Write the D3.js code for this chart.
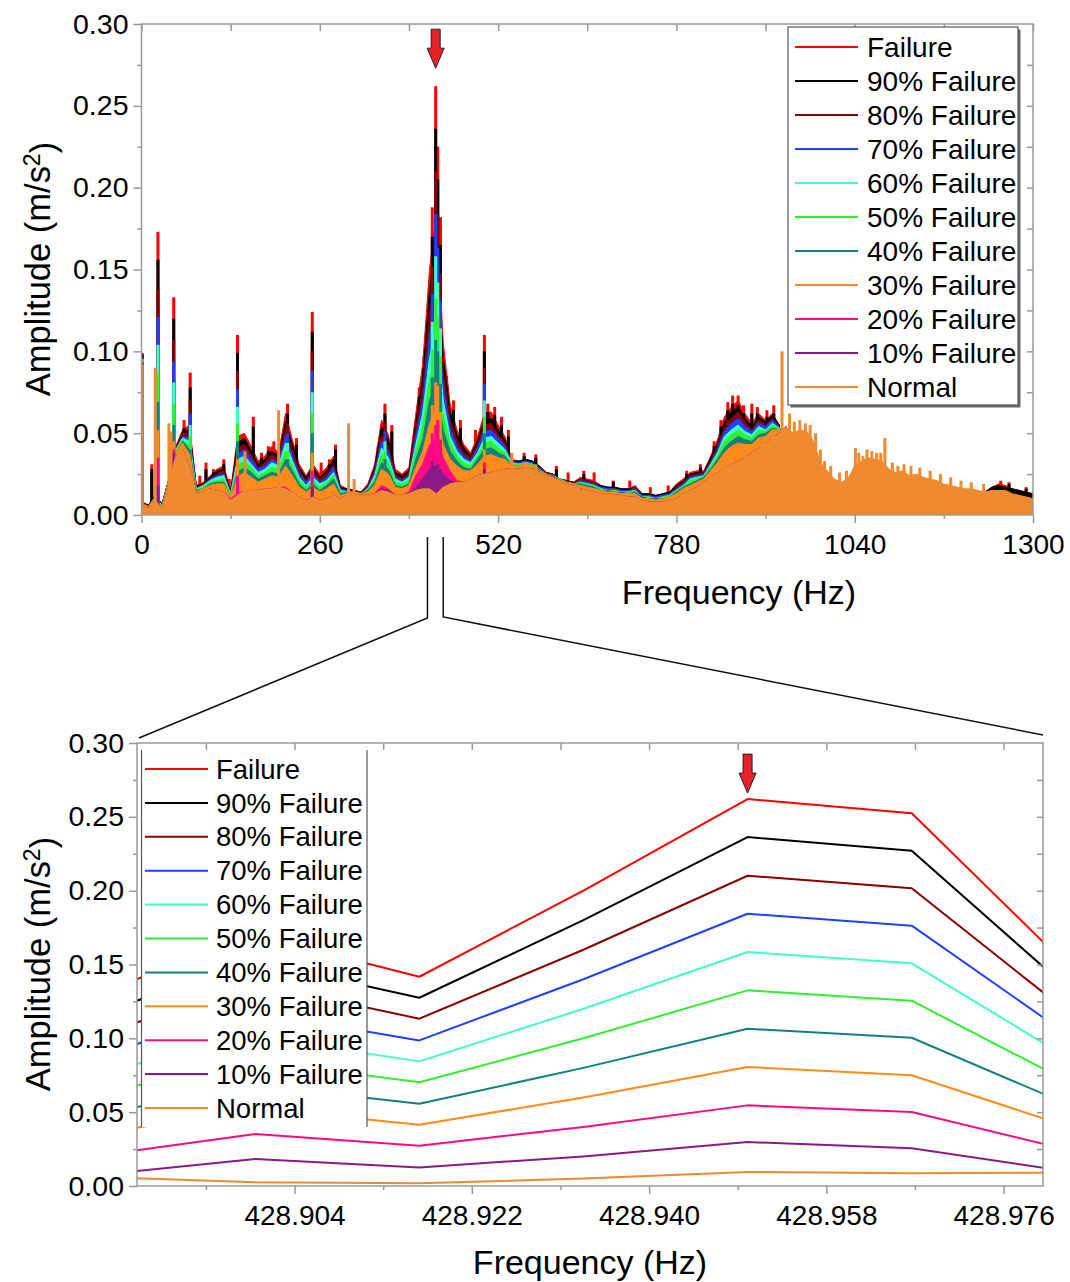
<!DOCTYPE html>
<html>
<head>
<meta charset="utf-8">
<script src="https://cdn.jsdelivr.net/npm/d3@7"></script>
<style>
  body { margin: 0; background: #fff; }
  svg text { font-family: "Liberation Sans", Arial, sans-serif; fill: #000; }
</style>
</head>
<body>
<div id="chart"></div>
<script>
// legend order is also the drawing order (Failure at the back, Normal in front)
const seriesNames = ["Failure", "90% Failure", "80% Failure", "70% Failure", "60% Failure",
  "50% Failure", "40% Failure", "30% Failure", "20% Failure", "10% Failure", "Normal"];
const seriesColors = ["#ff0000", "#000000", "#880000", "#2040ff", "#40ffc8",
  "#30f030", "#108080", "#ff8c1a", "#ff0a85", "#8a1a8a", "#ef8a30"];

// tick labels
const ampTicks = [0.00, 0.05, 0.10, 0.15, 0.20, 0.25, 0.30];
const ampMinor = [0.025, 0.075, 0.125, 0.175, 0.225, 0.275];
const freqTicks = [0, 260, 520, 780, 1040, 1300];
const freqMinor = [130, 390, 650, 910, 1170];
const zoomTicks = [428.904, 428.922, 428.940, 428.958, 428.976];
const zoomMinor = [428.895, 428.913, 428.931, 428.949, 428.967];

// full spectrum, frequency grid (Hz)
const freqTop = [
  0, 10, 20, 30, 40, 50, 60, 70, 80, 90,
  100, 110, 120, 130, 140, 150, 160, 170, 180, 190,
  200, 210, 220, 230, 240, 250, 260, 270, 280, 290,
  300, 310, 320, 330, 340, 350, 360, 370, 380, 390,
  400, 410, 420, 430, 440, 450, 460, 470, 480, 490,
  500, 510, 520, 530, 540, 550, 560, 570, 580, 590,
  600, 610, 620, 630, 640, 650, 660, 670, 680, 690,
  700, 710, 720, 730, 740, 750, 760, 770, 780, 790,
  800, 810, 820, 830, 840, 850, 860, 870, 880, 890,
  900, 910, 920, 930, 940, 950, 960, 970, 980, 990,
  1000, 1010, 1020, 1030, 1040, 1050, 1060, 1070, 1080, 1090,
  1100, 1110, 1120, 1130, 1140, 1150, 1160, 1170, 1180, 1190,
  1200, 1210, 1220, 1230, 1240, 1250, 1260, 1270, 1280, 1290,
  1300];

// envelope amplitudes, in 1/1000 m/s^2
const failure = [
  8, 6, 12, 7, 22, 42, 52, 55, 18, 20,
  24, 28, 30, 15, 48, 50, 42, 33, 36, 42,
  38, 62, 46, 31, 24, 31, 25, 29, 36, 18,
  16, 15, 14, 19, 31, 58, 49, 28, 25, 29,
  62, 92, 150, 185, 105, 68, 52, 43, 38, 48,
  62, 63, 55, 48, 34, 33, 34, 33, 30, 26,
  25, 22, 21, 20, 23, 22, 21, 18, 17, 17,
  16, 16, 18, 13, 13, 12, 13, 14, 19, 22,
  26, 27, 27, 36, 46, 60, 66, 70, 62, 56,
  62, 58, 62, 55, 22, 20, 19, 18, 17, 16,
  15, 15, 14, 14, 15, 15, 15, 15, 14, 14,
  14, 14, 14, 13, 13, 13, 13, 13, 13, 13,
  13, 13, 13, 14, 17, 19, 18, 16, 15, 14,
  13];
const fail90 = [
  8, 6, 12, 7, 22, 41, 51, 52, 18, 19,
  23, 27, 28, 14, 44, 47, 39, 31, 34, 39,
  36, 57, 43, 29, 23, 29, 23, 27, 34, 17,
  16, 15, 14, 18, 29, 54, 46, 26, 24, 27,
  57, 84, 137, 168, 96, 63, 49, 41, 36, 46,
  58, 59, 52, 46, 33, 33, 34, 33, 30, 26,
  25, 22, 21, 20, 22, 21, 20, 18, 17, 17,
  16, 16, 17, 13, 13, 12, 13, 14, 18, 21,
  25, 26, 26, 35, 44, 57, 63, 66, 59, 54,
  60, 57, 61, 55, 25, 23, 22, 21, 20, 18,
  16, 16, 15, 15, 17, 17, 17, 17, 16, 15,
  15, 15, 15, 14, 14, 14, 14, 14, 13, 13,
  13, 13, 13, 14, 17, 18, 17, 16, 15, 14,
  13];
// the milder stages are hidden under Normal above ~940 Hz, so they stop there
const fail80 = [
  8, 6, 11, 6, 22, 41, 50, 50, 17, 19,
  22, 25, 27, 14, 41, 43, 37, 29, 32, 37,
  34, 53, 40, 27, 21, 27, 22, 25, 31, 16,
  15, 15, 14, 18, 27, 49, 42, 25, 22, 26,
  53, 77, 123, 151, 87, 58, 46, 38, 35, 43,
  55, 56, 49, 44, 33, 32, 33, 32, 29, 26,
  25, 22, 21, 20, 22, 21, 20, 17, 16, 16,
  15, 15, 17, 12, 12, 11, 12, 13, 17, 20,
  24, 25, 26, 33, 42, 54, 59, 63, 57, 52,
  58, 55, 59, 54, 28];
const fail70 = [
  7, 5, 11, 6, 21, 40, 48, 47, 16, 18,
  22, 24, 25, 13, 37, 40, 34, 28, 30, 34,
  32, 48, 36, 25, 20, 25, 20, 23, 29, 16,
  15, 14, 13, 17, 26, 45, 39, 23, 21, 24,
  48, 69, 110, 133, 79, 53, 42, 36, 33, 41,
  51, 52, 47, 42, 32, 32, 33, 32, 29, 25,
  24, 22, 20, 19, 21, 20, 19, 17, 16, 16,
  15, 15, 16, 12, 12, 11, 12, 13, 16, 19,
  23, 24, 25, 32, 40, 51, 56, 59, 54, 51,
  56, 54, 58, 54, 32];
const fail60 = [
  7, 5, 11, 6, 21, 40, 47, 45, 16, 18,
  21, 23, 24, 13, 34, 36, 31, 26, 28, 32,
  30, 44, 33, 23, 18, 23, 19, 21, 26, 15,
  14, 14, 13, 16, 24, 41, 35, 22, 20, 23,
  43, 62, 96, 116, 70, 48, 39, 34, 32, 38,
  47, 48, 44, 40, 32, 31, 32, 31, 28, 25,
  24, 22, 20, 19, 20, 19, 18, 16, 15, 15,
  14, 14, 15, 11, 11, 10, 11, 12, 15, 18,
  22, 23, 24, 31, 38, 48, 52, 55, 51, 49,
  54, 52, 56, 53, 35];
const fail50 = [
  7, 5, 10, 5, 21, 39, 46, 42, 15, 17,
  20, 21, 22, 12, 30, 33, 29, 24, 26, 29,
  28, 39, 30, 21, 17, 21, 17, 20, 24, 14,
  14, 14, 13, 16, 22, 37, 32, 20, 19, 21,
  39, 54, 83, 99, 61, 44, 36, 32, 30, 36,
  44, 45, 41, 38, 31, 31, 32, 31, 28, 25,
  24, 22, 20, 19, 20, 19, 18, 16, 15, 15,
  14, 14, 15, 11, 11, 10, 11, 12, 15, 18,
  21, 22, 24, 30, 36, 45, 49, 52, 49, 47,
  52, 51, 55, 53, 38];
const fail40 = [
  7, 5, 10, 5, 21, 38, 45, 40, 15, 16,
  19, 20, 20, 11, 26, 29, 26, 22, 24, 26,
  25, 34, 27, 19, 15, 19, 15, 18, 22, 13,
  14, 14, 13, 15, 20, 32, 28, 18, 17, 19,
  34, 46, 70, 82, 52, 39, 33, 29, 28, 34,
  40, 41, 38, 36, 30, 30, 31, 30, 28, 25,
  24, 21, 20, 19, 19, 18, 17, 15, 15, 14,
  14, 13, 14, 11, 10, 10, 10, 11, 14, 17,
  19, 21, 23, 28, 34, 41, 45, 48, 46, 45,
  49, 50, 53, 52, 41];
const fail30 = [
  7, 5, 10, 5, 21, 38, 44, 37, 14, 16,
  18, 19, 19, 11, 23, 26, 23, 20, 22, 24,
  23, 30, 24, 17, 14, 17, 14, 16, 19, 12,
  13, 14, 13, 14, 18, 28, 25, 17, 16, 18,
  29, 39, 56, 65, 43, 34, 30, 27, 27, 31,
  36, 37, 35, 34, 30, 30, 31, 30, 27, 25,
  23, 21, 20, 19, 18, 17, 16, 15, 14, 14,
  13, 13, 13, 10, 10, 9, 10, 11, 13, 16,
  18, 20, 22, 27, 32, 38, 42, 44, 43, 43,
  47, 48, 52, 52, 44];
// 20 % and 10 % sit on the Normal level except around the fault line
const fail20 = [
  6, 4, 9, 4, 20, 36, 40, 30, 13, 14,
  16, 15, 14, 10, 13, 15, 15, 15, 16, 16,
  17, 17, 14, 11, 9, 11, 9, 10, 12, 10,
  12, 13, 12, 12, 13, 18, 16, 12, 12, 14,
  24, 31, 43, 47, 35, 27, 21, 20, 22, 24,
  25, 26, 27, 28, 28, 28, 29, 28, 26, 24,
  23, 21, 19, 18, 16, 15, 14, 13, 13, 12,
  12, 11, 11, 9, 8, 8, 8, 9, 10, 13,
  15, 17, 20, 23, 26, 29, 31, 33, 35, 38,
  41, 44, 47, 50, 54];
const fail10 = [
  6, 4, 9, 4, 20, 36, 40, 30, 13, 14,
  16, 15, 14, 9, 12, 15, 15, 15, 16, 16,
  17, 16, 14, 11, 9, 11, 9, 10, 12, 10,
  12, 13, 12, 12, 13, 16, 15, 12, 12, 13,
  17, 22, 28, 30, 25, 21, 20, 20, 22, 24,
  25, 26, 27, 28, 28, 28, 29, 28, 26, 24,
  23, 21, 19, 18, 16, 15, 14, 13, 13, 12,
  12, 11, 11, 9, 8, 8, 8, 9, 10, 13,
  15, 17, 20, 23, 26, 29, 31, 33, 35, 38,
  41, 44, 47, 50, 54];
const normal = [
  6, 4, 9, 4, 20, 36, 40, 30, 13, 14,
  16, 15, 14, 9, 12, 15, 15, 15, 16, 16,
  17, 16, 14, 11, 9, 11, 9, 10, 12, 10,
  12, 13, 12, 12, 13, 15, 14, 12, 12, 13,
  15, 16, 16, 13, 17, 19, 20, 20, 22, 24,
  25, 26, 27, 28, 28, 28, 29, 28, 26, 24,
  23, 21, 19, 18, 16, 15, 14, 13, 13, 12,
  12, 11, 11, 9, 8, 8, 8, 9, 10, 13,
  15, 17, 20, 23, 26, 29, 31, 33, 35, 38,
  41, 44, 47, 50, 54, 50, 52, 51, 45, 32,
  27, 22, 20, 22, 30, 33, 35, 34, 33, 28,
  26, 27, 24, 25, 23, 22, 21, 19, 18, 17,
  16, 16, 15, 14, 15, 15, 15, 13, 12, 11,
  10];

// narrow spectral lines [Hz, 1/1000 m/s^2]
const failureSpikes = [[1, 99], [15, 31], [24, 173], [47, 133], [55, 45], [62, 58], [71, 87],
  [85, 24], [94, 32], [105, 28], [120, 34], [128, 22], [140, 110], [163, 60], [175, 38],
  [185, 42], [193, 45], [205, 45], [213, 68], [226, 47], [249, 124], [262, 32], [274, 34],
  [283, 43], [345, 42], [355, 68], [365, 55], [396, 40], [405, 78], [412, 97], [424, 188],
  [429, 262], [432, 225], [436, 182], [445, 85], [455, 70], [465, 58], [487, 52], [500, 110],
  [505, 68], [515, 66], [525, 60], [535, 52], [558, 38], [575, 37], [605, 30], [622, 26],
  [645, 27], [660, 26], [688, 21], [712, 21], [742, 17], [768, 18], [795, 27], [815, 31],
  [835, 45], [845, 58], [855, 69], [862, 73], [870, 73], [878, 67], [890, 68], [898, 66],
  [912, 64], [922, 67], [1253, 21], [1265, 20], [1290, 17]];
const fail90Spikes = [[1, 98], [15, 28], [24, 156], [47, 120], [55, 42], [62, 53], [71, 78],
  [94, 28], [105, 26], [120, 31], [140, 99], [163, 54], [175, 35], [185, 39], [205, 42],
  [213, 62], [226, 43], [249, 112], [274, 31], [283, 40], [345, 39], [355, 62], [365, 51],
  [405, 72], [412, 90], [424, 170], [429, 236], [432, 205], [436, 165], [445, 78], [455, 64],
  [465, 53], [500, 100], [505, 63], [515, 61], [525, 55], [535, 48], [558, 36], [575, 35],
  [605, 28], [645, 25], [688, 20], [795, 25], [815, 29], [835, 42], [845, 54], [855, 64],
  [862, 68], [870, 67], [878, 62], [890, 62], [898, 62], [912, 60], [922, 62], [1265, 19],
  [1290, 16]];
const fail80Spikes = [[1, 97], [24, 138], [47, 107], [71, 70], [140, 88], [213, 56], [249, 100],
  [355, 57], [424, 152], [429, 210], [432, 184], [436, 148], [500, 90], [855, 58], [870, 62]];
const fail70Spikes = [[1, 96], [24, 121], [47, 94], [71, 62], [140, 77], [213, 50], [249, 88],
  [355, 51], [424, 135], [429, 184], [432, 163], [436, 131], [500, 80], [855, 53], [870, 56]];
const fail60Spikes = [[1, 95], [24, 104], [47, 81], [71, 55], [140, 66], [213, 44], [249, 75],
  [355, 45], [424, 118], [429, 158], [432, 142], [436, 114], [500, 70], [870, 50]];
const fail50Spikes = [[1, 95], [24, 87], [47, 68], [71, 48], [140, 56], [213, 39], [249, 62],
  [355, 39], [424, 101], [429, 132], [432, 121], [436, 97], [500, 60], [870, 45]];
const fail40Spikes = [[1, 94], [24, 69], [47, 55], [71, 40], [140, 45], [213, 34], [249, 50],
  [355, 34], [424, 84], [429, 107], [432, 100], [436, 80], [500, 50], [870, 40]];
const fail30Spikes = [[1, 94], [24, 52], [47, 45], [71, 33], [140, 34], [249, 38], [424, 67],
  [429, 81], [432, 79], [436, 63], [500, 40]];
const fail20Spikes = [[1, 93], [24, 35], [47, 40], [140, 24], [249, 27], [424, 50], [429, 55],
  [432, 58], [436, 46], [500, 32]];
const fail10Spikes = [[1, 93], [24, 18], [47, 38], [249, 17], [424, 33], [429, 30], [432, 31],
  [436, 28], [500, 28]];
const normalSpikes = [[1, 92], [20, 90], [40, 56], [43, 51], [151, 39], [200, 64], [302, 56],
  [310, 22], [540, 38], [560, 32], [575, 31], [850, 33], [880, 40], [905, 47], [920, 52],
  [934, 100], [945, 62], [952, 57], [960, 58], [968, 56], [975, 55], [983, 50], [990, 40],
  [996, 33], [1005, 30], [1018, 26], [1028, 27], [1041, 41], [1046, 38], [1052, 36],
  [1058, 40], [1065, 39], [1072, 38], [1078, 38], [1084, 47], [1095, 32], [1103, 30],
  [1112, 31], [1122, 30], [1135, 29], [1150, 27], [1165, 25], [1180, 23], [1195, 21],
  [1210, 20], [1228, 19]];

// zoomed view around the fault line (Hz, m/s^2)
const zoomFreq = [428.88333, 428.9, 428.91667, 428.93333, 428.95, 428.96667, 428.98333];
const zoomFailure = [0.1285, 0.170, 0.1417, 0.200, 0.262, 0.2524, 0.1436];
const zoom90 = [0.1152, 0.152, 0.1275, 0.180, 0.2363, 0.2270, 0.1289];
const zoom80 = [0.1006, 0.137, 0.1133, 0.160, 0.2101, 0.2016, 0.1135];
const zoom70 = [0.0880, 0.1175, 0.0986, 0.140, 0.1844, 0.1763, 0.0987];
const zoom60 = [0.0755, 0.1012, 0.0844, 0.120, 0.1585, 0.1508, 0.0835];
const zoom50 = [0.0616, 0.0849, 0.0702, 0.100, 0.1325, 0.1255, 0.0679];
const zoom40 = [0.0477, 0.0683, 0.0557, 0.080, 0.1065, 0.1004, 0.0530];
const zoom30 = [0.0344, 0.0527, 0.0415, 0.060, 0.0806, 0.0750, 0.0385];
const zoom20 = [0.0200, 0.0352, 0.0273, 0.040, 0.0546, 0.0501, 0.0232];
const zoom10 = [0.0069, 0.0183, 0.0126, 0.020, 0.0298, 0.0255, 0.0091];
const zoomNormal = [0.0063, 0.0025, 0.0018, 0.005, 0.0095, 0.0086, 0.0091];

const peakFreq = 428.95;
const peakAmp = 0.262;
const zoomBand = [417, 440]; // where the zoom connector leaves the top axis

// ---------------------------------------------------------------
const width = 1070;
const height = 1282;
const axisGrey = "#9a9a9a";

const svg = d3
  .select("#chart")
  .append("svg")
  .attr("width", width)
  .attr("height", height);

const topBox = { left: 141.5, right: 1033, top: 24, bottom: 515 };
const botBox = { left: 137, right: 1043, top: 743, bottom: 1186 };

const xTop = d3.scaleLinear().domain([0, 1300]).range([topBox.left, topBox.right]);
const yTop = d3.scaleLinear().domain([0, 0.3]).range([topBox.bottom, topBox.top]);
const xBot = d3.scaleLinear().domain([428.888, 428.98]).range([botBox.left, botBox.right]);
const yBot = d3.scaleLinear().domain([0, 0.3]).range([botBox.bottom, botBox.top]);

const defs = svg.append("defs");
[["clipTop", topBox], ["clipBot", botBox]].forEach(([id, b]) => {
  defs.append("clipPath").attr("id", id)
    .append("rect")
    .attr("x", b.left).attr("y", b.top)
    .attr("width", b.right - b.left).attr("height", b.bottom - b.top);
});

// ---------- top: full spectrum ----------
const topValues = [failure, fail90, fail80, fail70, fail60, fail50, fail40, fail30, fail20, fail10, normal];
const topSpikes = [failureSpikes, fail90Spikes, fail80Spikes, fail70Spikes, fail60Spikes,
  fail50Spikes, fail40Spikes, fail30Spikes, fail20Spikes, fail10Spikes, normalSpikes];

const area = d3
  .area()
  .x((d) => xTop(d.f))
  .y0(yTop(0))
  .y1((d) => yTop(d.v));

const gTop = svg.append("g").attr("clip-path", "url(#clipTop)");

topValues.forEach((vals, i) => {
  const pts = vals.map((v, j) => ({ f: freqTop[j], v: v / 1000 }));
  const spikes = topSpikes[i].map(([f, v]) => ({ f: f, v: v / 1000 }));
  gTop.append("path")
    .datum(pts)
    .attr("d", area)
    .attr("fill", seriesColors[i])
    .attr("stroke", seriesColors[i])
    .attr("stroke-width", 1);
  gTop.selectAll(null)
    .data(spikes)
    .join("rect")
    .attr("x", (d) => xTop(d.f) - 1.5)
    .attr("width", 3)
    .attr("y", (d) => yTop(d.v))
    .attr("height", (d) => yTop(0) - yTop(d.v))
    .attr("fill", seriesColors[i]);
});

// axes helper: ticks only, the frame is drawn as a rect
function styleAxis(g, fontSize) {
  g.select(".domain").remove();
  g.selectAll(".tick line").attr("stroke", axisGrey).attr("stroke-width", 1.5);
  g.selectAll(".tick text")
    .style("font-size", fontSize)
    .style("font-family", '"Liberation Sans", Arial, sans-serif')
    .attr("fill", "#000");
}

function drawFrame(x, y, box, xMajor, xMinor, xFormat, xPad) {
  // left
  svg.append("g").attr("transform", `translate(${box.left},0)`)
    .call(d3.axisLeft(y).tickValues(ampTicks).tickSize(8).tickPadding(5).tickFormat(d3.format(".2f")))
    .call((g) => styleAxis(g, "28.5px"));
  svg.append("g").attr("transform", `translate(${box.left},0)`)
    .call(d3.axisLeft(y).tickValues(ampMinor).tickSize(4).tickFormat(""))
    .call((g) => styleAxis(g, "0px"));
  // bottom
  svg.append("g").attr("transform", `translate(0,${box.bottom})`)
    .call(d3.axisBottom(x).tickValues(xMajor).tickSize(8).tickPadding(xPad).tickFormat(xFormat))
    .call((g) => styleAxis(g, "28px"));
  svg.append("g").attr("transform", `translate(0,${box.bottom})`)
    .call(d3.axisBottom(x).tickValues(xMinor).tickSize(4).tickFormat(""))
    .call((g) => styleAxis(g, "0px"));
  // top, ticks pointing in
  svg.append("g").attr("transform", `translate(0,${box.top})`)
    .call(d3.axisBottom(x).tickValues(xMajor.concat(xMinor)).tickSize(7).tickFormat(""))
    .call((g) => styleAxis(g, "0px"));
  // right, ticks pointing in
  svg.append("g").attr("transform", `translate(${box.right},0)`)
    .call(d3.axisLeft(y).tickValues(ampTicks.concat(ampMinor).filter((d) => d > 0 && d < 0.3)).tickSize(6).tickFormat(""))
    .call((g) => styleAxis(g, "0px"));
  svg.append("rect")
    .attr("x", box.left).attr("y", box.top)
    .attr("width", box.right - box.left).attr("height", box.bottom - box.top)
    .attr("fill", "none").attr("stroke", axisGrey).attr("stroke-width", 1.5);
}

drawFrame(xTop, yTop, topBox, freqTicks, freqMinor, d3.format("d"), 11);

function yTitle(cy) {
  const t = svg.append("text")
    .attr("transform", `translate(38,${cy}) rotate(-90)`)
    .attr("text-anchor", "middle")
    .attr("dy", "0.35em")
    .style("font-size", "34.5px");
  t.append("tspan").text("Amplitude (m/s");
  t.append("tspan").attr("dy", "-0.45em").style("font-size", "23px").text("2");
  t.append("tspan").attr("dy", "0.45em").text(")");
}

function xTitle(cx, cy) {
  svg.append("text")
    .attr("x", cx).attr("y", cy)
    .attr("dy", "0.35em")
    .attr("text-anchor", "middle")
    .style("font-size", "34px")
    .text("Frequency (Hz)");
}

yTitle(269);
xTitle(739, 592);

// red marker arrow, tip just above the fault peak
function arrow(cx, tipY) {
  const p = d3.path();
  p.moveTo(cx - 4.5, tipY - 39);
  p.lineTo(cx + 4.5, tipY - 39);
  p.lineTo(cx + 4.5, tipY - 20);
  p.lineTo(cx + 8.5, tipY - 20);
  p.lineTo(cx, tipY);
  p.lineTo(cx - 8.5, tipY - 20);
  p.lineTo(cx - 4.5, tipY - 20);
  p.closePath();
  svg.append("path").attr("d", p.toString())
    .attr("fill", "#e8202a").attr("stroke", "#222").attr("stroke-width", 1);
}

arrow(xTop(peakFreq), yTop(peakAmp) - 18);

// top legend with a light shadow
const legTop = svg.append("g");
legTop.append("rect").attr("x", 790.5).attr("y", 29.5).attr("width", 230).attr("height", 378).attr("fill", "#666");
legTop.append("rect").attr("x", 788).attr("y", 27).attr("width", 230).attr("height", 378)
  .attr("fill", "#fff").attr("stroke", "#555").attr("stroke-width", 1.2);
seriesNames.forEach((name, i) => {
  const yy = 47 + i * 34;
  legTop.append("line").attr("x1", 795).attr("x2", 858).attr("y1", yy).attr("y2", yy)
    .attr("stroke", seriesColors[i]).attr("stroke-width", 2);
  legTop.append("text").attr("x", 867).attr("y", yy).attr("dy", "0.35em")
    .style("font-size", "28px").text(name);
});

// ---------- connector from top axis to the zoomed panel ----------
const conn = svg.append("g").attr("fill", "none").attr("stroke", "#111").attr("stroke-width", 1.5);
conn.append("polyline")
  .attr("points", `${xTop(zoomBand[0])},537 ${xTop(zoomBand[0])},618 ${botBox.left + 2},738`);
conn.append("polyline")
  .attr("points", `${xTop(zoomBand[1])},537 ${xTop(zoomBand[1])},617 ${botBox.right},735`);

// ---------- bottom: zoom on the fault line ----------
const zoomValues = [zoomFailure, zoom90, zoom80, zoom70, zoom60, zoom50, zoom40, zoom30, zoom20, zoom10, zoomNormal];

const line = d3
  .line()
  .x((d) => xBot(d.f))
  .y((d) => yBot(d.v));

const gBot = svg.append("g").attr("clip-path", "url(#clipBot)");
zoomValues.forEach((vals, i) => {
  gBot.append("path")
    .datum(vals.map((v, j) => ({ f: zoomFreq[j], v: v })))
    .attr("d", line)
    .attr("fill", "none")
    .attr("stroke", seriesColors[i])
    .attr("stroke-width", 2)
    .attr("stroke-linejoin", "round");
});

drawFrame(xBot, yBot, botBox, zoomTicks, zoomMinor, d3.format(".3f"), 11);

yTitle(964);
xTitle(590, 1262);

arrow(xBot(peakFreq), yBot(peakAmp) - 6);

// bottom legend: white panel with side rules only
const legBot = svg.append("g");
legBot.append("rect").attr("x", 141.5).attr("y", 750).attr("width", 225.5).attr("height", 377).attr("fill", "#fff");
legBot.append("line").attr("x1", 141.5).attr("x2", 141.5).attr("y1", 750).attr("y2", 1127)
  .attr("stroke", "#555").attr("stroke-width", 1.2);
legBot.append("line").attr("x1", 367).attr("x2", 367).attr("y1", 750).attr("y2", 1127)
  .attr("stroke", "#555").attr("stroke-width", 1.2);
seriesNames.forEach((name, i) => {
  const yy = 769 + i * 33.9;
  legBot.append("line").attr("x1", 145).attr("x2", 208).attr("y1", yy).attr("y2", yy)
    .attr("stroke", seriesColors[i]).attr("stroke-width", 2);
  legBot.append("text").attr("x", 216).attr("y", yy).attr("dy", "0.35em")
    .style("font-size", "27.5px").text(name);
});
</script>
</body>
</html>
